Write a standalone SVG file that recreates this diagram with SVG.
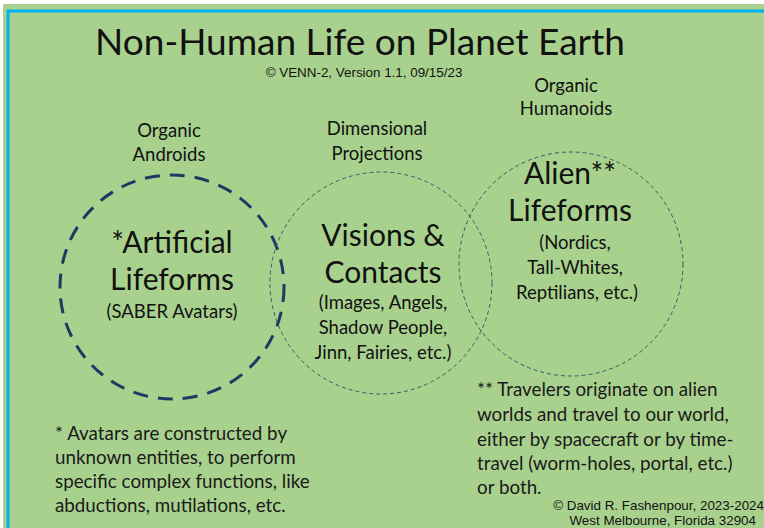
<svg xmlns="http://www.w3.org/2000/svg" width="764" height="528" viewBox="0 0 764 528">
<style>
.c{font-family:Lato,"Open Sans","DejaVu Sans",sans-serif;fill:#111;text-anchor:middle}
.a{font-family:"Liberation Sans",Arial,sans-serif;fill:#111;font-size:13.4px}
.big{font-size:30px}
.lab{font-size:18.5px}
.note{font-family:Lato,"Open Sans",sans-serif;font-size:18.8px;fill:#1a1a1a}
</style>
<rect x="0" y="0" width="764" height="528" fill="#fff"/>
<rect x="3" y="4" width="761" height="524" fill="#A9D18E"/>
<path d="M8 528V11H764" fill="none" stroke="#00B0F0" stroke-width="3"/>
<g id="title">
<text class="c" x="360" y="55" font-size="37">Non-Human Life on Planet Earth</text>
<text class="a" x="364" y="77" text-anchor="middle">© VENN-2, Version 1.1, 09/15/23</text>
</g>
<g id="artificial">
<circle cx="172" cy="287" r="112" fill="none" stroke="#1F3864" stroke-width="3" stroke-dasharray="15 10"/>
<text class="c lab" x="169" y="137">Organic</text>
<text class="c lab" x="169" y="161">Androids</text>
<text class="c big" x="172" y="253">*Artificial</text>
<text class="c big" x="172" y="290">Lifeforms</text>
<text class="c lab" x="172" y="318">(SABER Avatars)</text>
</g>
<g id="visions">
<circle cx="381" cy="283" r="111" fill="none" stroke="#44546A" stroke-width="1" stroke-dasharray="4 3"/>
<text class="c lab" x="377" y="135">Dimensional</text>
<text class="c lab" x="377" y="160">Projections</text>
<text class="c big" x="383" y="246">Visions &amp;</text>
<text class="c big" x="383" y="283">Contacts</text>
<text class="c lab" x="383" y="309">(Images, Angels,</text>
<text class="c lab" x="383" y="334">Shadow People,</text>
<text class="c lab" x="383" y="359">Jinn, Fairies, etc.)</text>
</g>
<g id="alien">
<circle cx="571" cy="264" r="112" fill="none" stroke="#44546A" stroke-width="1" stroke-dasharray="4 3"/>
<text class="c lab" x="566" y="92">Organic</text>
<text class="c lab" x="566" y="115">Humanoids</text>
<text class="c big" x="570" y="184">Alien**</text>
<text class="c big" x="570" y="221">Lifeforms</text>
<text class="c lab" x="575" y="249">(Nordics,</text>
<text class="c lab" x="575" y="274">Tall-Whites,</text>
<text class="c lab" x="577" y="299">Reptilians, etc.)</text>
</g>
<g id="notes">
<text class="note" x="55" y="440">* Avatars are constructed by</text>
<text class="note" x="55" y="464">unknown entities, to perform</text>
<text class="note" x="55" y="488">specific complex functions, like</text>
<text class="note" x="55" y="512">abductions, mutilations, etc.</text>
<text class="note" x="477" y="396">** Travelers originate on alien</text>
<text class="note" x="477" y="421">worlds and travel to our world,</text>
<text class="note" x="477" y="446">either by spacecraft or by time-</text>
<text class="note" x="477" y="470">travel (worm-holes, portal, etc.)</text>
<text class="note" x="477" y="494">or both.</text>
<text class="a" x="764" y="510" text-anchor="end">© David R. Fashenpour, 2023-2024</text>
<text class="a" x="756" y="525" text-anchor="end">West Melbourne, Florida 32904</text>
</g>
</svg>
